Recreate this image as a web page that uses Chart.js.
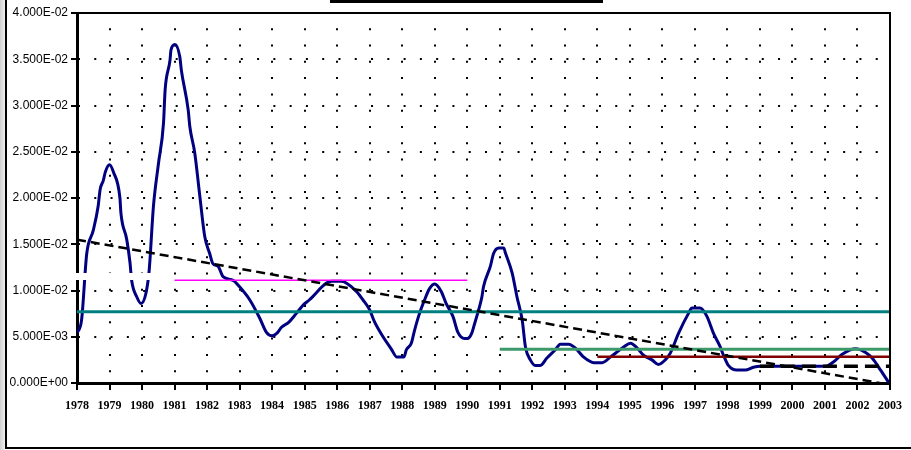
<!DOCTYPE html>
<html lang="en">
<head>
  <meta charset="UTF-8" />
  <title>1978-2003</title>
  <script src="https://cdn.jsdelivr.net/npm/chart.js@4"></script>
  <style>
    body { margin: 0; background: #fff; }
    #wrap { position: relative; width: 911px; height: 450px; overflow: hidden; }
    #strip { position: absolute; left: 0; top: 0; width: 5px; height: 450px; background: linear-gradient(to right, #cfcfcf, #efefef); }
    #frameLeft { position: absolute; left: 5px; top: 0; width: 2px; height: 449px; background: #000; }
    #frameBottom { position: absolute; left: 5px; top: 447px; width: 906px; height: 2px; background: #000; }
    #titleBar { position: absolute; left: 330px; top: 0; width: 273px; height: 3px; background: #000; }
    #box { position: absolute; left: 0; top: 0; width: 911px; height: 450px; }
  </style>
</head>
<body>
  <div id="wrap">
    <div id="box"><canvas id="chart"></canvas></div>
    <div id="strip"></div>
    <div id="frameLeft"></div>
    <div id="frameBottom"></div>
    <div id="titleBar"></div>
  </div>

  <script>
    // main series
    const years = [
      1978.00, 1978.14, 1978.30, 1978.50, 1978.65, 1978.71, 1978.81, 1978.87, 1979.00, 1979.12,
      1979.32, 1979.35, 1979.53, 1979.63, 1979.68, 1979.84, 1979.97, 1980.12, 1980.22, 1980.35,
      1980.50, 1980.66, 1980.71, 1980.86, 1980.89, 1981.01, 1981.16, 1981.21, 1981.42, 1981.47,
      1981.62, 1981.78, 1981.93, 1982.08, 1982.18, 1982.34, 1982.49, 1982.80, 1983.00, 1983.31,
      1983.62, 1983.82, 1984.00, 1984.18, 1984.28, 1984.49, 1984.74, 1984.95, 1985.15, 1985.67,
      1985.82, 1986.13, 1986.59, 1986.79, 1987.00, 1987.15, 1987.41, 1987.66, 1987.84, 1988.05,
      1988.13, 1988.28, 1988.38, 1988.53, 1988.69, 1988.84, 1989.00, 1989.20, 1989.35, 1989.56,
      1989.71, 1989.92, 1990.00, 1990.14, 1990.20, 1990.35, 1990.45, 1990.50, 1990.71, 1990.81,
      1990.97, 1991.12, 1991.18, 1991.38, 1991.53, 1991.69, 1991.79, 1991.94, 1992.09, 1992.25,
      1992.45, 1992.71, 1992.86, 1993.12, 1993.32, 1993.58, 1993.89, 1994.15, 1994.40, 1994.66,
      1994.81, 1995.02, 1995.22, 1995.42, 1995.68, 1995.88, 1996.09, 1996.24, 1996.50, 1996.80,
      1996.91, 1997.16, 1997.37, 1997.57, 1997.78, 1997.88, 1998.03, 1998.29, 1998.55, 1998.80,
      1999.01, 1999.50, 2000.00, 2000.50, 2001.02, 2001.27, 2001.53, 2001.94, 2002.25, 2002.45,
      2002.71, 2002.97
    ];
    const values = [
      0.0054, 0.0068, 0.0140, 0.0165, 0.0191, 0.0209, 0.0219, 0.0228, 0.0236, 0.0228,
      0.0200, 0.0184, 0.0155, 0.0130, 0.0111, 0.0093, 0.0086, 0.0097, 0.0122, 0.0191,
      0.0236, 0.0281, 0.0317, 0.0349, 0.0360, 0.0366, 0.0353, 0.0338, 0.0295, 0.0277,
      0.0249, 0.0201, 0.0158, 0.0140, 0.0129, 0.0126, 0.0115, 0.0111, 0.0104, 0.0090,
      0.0070, 0.0055, 0.0051, 0.0055, 0.0060, 0.0065, 0.0075, 0.0084, 0.0090, 0.0108,
      0.0110, 0.0110, 0.0099, 0.0090, 0.0079, 0.0066, 0.0050, 0.0037, 0.0028, 0.0028,
      0.0036, 0.0043, 0.0057, 0.0075, 0.0090, 0.0102, 0.0107, 0.0099, 0.0086, 0.0072,
      0.0055, 0.0048, 0.0048, 0.0054, 0.0061, 0.0079, 0.0093, 0.0104, 0.0126, 0.0140,
      0.0146, 0.0146, 0.0140, 0.0119, 0.0093, 0.0068, 0.0039, 0.0025, 0.0019, 0.0019,
      0.0027, 0.0036, 0.0042, 0.0042, 0.0038, 0.0028, 0.0022, 0.0022, 0.0028, 0.0035,
      0.0039, 0.0043, 0.0038, 0.0030, 0.0025, 0.0020, 0.0025, 0.0032, 0.0054, 0.0075,
      0.0081, 0.0081, 0.0072, 0.0054, 0.0039, 0.0030, 0.0019, 0.0014, 0.0014, 0.0017,
      0.0018, 0.0018, 0.0018, 0.0018, 0.0018, 0.0023, 0.0031, 0.0037, 0.0033, 0.0027,
      0.0014, 0.0000
    ];

    // trend and reference levels: [start year, end year], [start value, end value]
    const trendYears = [1978, 2003];
    const trendValues = [0.0155, -0.0002];
    const allMeanYears = [1978, 2003];
    const allMeanValues = [0.0077, 0.0077];
    const mean8190Years = [1981, 1990];
    const mean8190Values = [0.0111, 0.0111];
    const mean9103Years = [1991, 2003];
    const mean9103Values = [0.00365, 0.00365];
    const mean9403Years = [1994, 2003];
    const mean9403Values = [0.00285, 0.00285];
    const mean9903Years = [1999, 2003];
    const mean9903Values = [0.0018, 0.0018];

    const yMin = 0, yMax = 0.04, yStep = 0.005;
    const xMin = 1978, xMax = 2003;

    const pts = (xs, ys) => xs.map((x, i) => ({ x, y: ys[i] }));

    function sci(v) {
      if (Math.abs(v) < 1e-12) v = 0;
      const [m, e] = v.toExponential(3).split('e');
      const n = parseInt(e, 10);
      return m + 'E' + (n < 0 ? '-' : '+') + String(Math.abs(n)).padStart(2, '0');
    }

    const framePlugin = {
      id: 'frame',
      afterDraw(chart) {
        const { ctx, chartArea: a } = chart;
        ctx.save();
        ctx.strokeStyle = '#000';
        ctx.lineWidth = 2;
        ctx.beginPath();
        ctx.moveTo(a.left, a.top);
        ctx.lineTo(a.right, a.top);
        ctx.lineTo(a.right, a.bottom);
        ctx.stroke();
        // blank strip left over the axis in the original
        ctx.fillStyle = '#fff';
        ctx.fillRect(a.left - 2, a.top + 260, 76, 7);
        ctx.restore();
      }
    };

    const line = (data, color, width, dash) => ({
      data, borderColor: color, borderWidth: width, borderDash: dash || [],
      pointRadius: 0, fill: false, tension: 0
    });

    new Chart(document.getElementById('chart'), {
      type: 'line',
      data: {
        datasets: [
          line(pts(trendYears, trendValues), '#000', 2.5, [9, 5]),
          line(pts(allMeanYears, allMeanValues), '#008080', 3),
          line(pts(mean9903Years, mean9903Values), '#000', 3.5, [14, 7]),
          line(pts(mean9103Years, mean9103Values), '#3c9a6a', 3),
          line(pts(mean9403Years, mean9403Values), '#800000', 2.5),
          line(pts(mean8190Years, mean8190Values), '#ff00ff', 1.5),
          {
            data: pts(years, values),
            borderColor: '#000080',
            borderWidth: 3,
            pointRadius: 0,
            fill: false,
            cubicInterpolationMode: 'monotone'
          }
        ]
      },
      options: {
        responsive: true,
        maintainAspectRatio: false,
        animation: false,
        layout: { padding: { top: 13, right: 20, left: 0, bottom: 0 } },
        plugins: { legend: { display: false }, tooltip: { enabled: false }, title: { display: false } },
        scales: {
          x: {
            type: 'linear',
            min: xMin, max: xMax,
            afterFit: s => { s.height = 67; },
            ticks: {
              stepSize: 1, autoSkip: false, maxRotation: 0, padding: 9,
              color: '#000',
              font: { family: 'Liberation Serif', size: 12, weight: 'bold' },
              callback: v => String(v)
            },
            grid: { color: '#000', lineWidth: 2, tickLength: 7, tickWidth: 2, tickColor: '#000' },
            border: { display: true, color: '#000', width: 3, dash: [2, 14.28], dashOffset: 1 }
          },
          y: {
            min: yMin, max: yMax,
            afterFit: s => { s.width = 77; },
            ticks: {
              stepSize: yStep, padding: 3, color: '#000',
              font: { family: 'Liberation Sans', size: 12 },
              callback: v => sci(v)
            },
            grid: { color: '#000', lineWidth: 2, tickLength: 6, tickWidth: 2, tickColor: '#000' },
            border: { display: true, color: '#000', width: 3, dash: [2, 14.28], dashOffset: 1 }
          }
        }
      },
      plugins: [framePlugin]
    });
  </script>
</body>
</html>
